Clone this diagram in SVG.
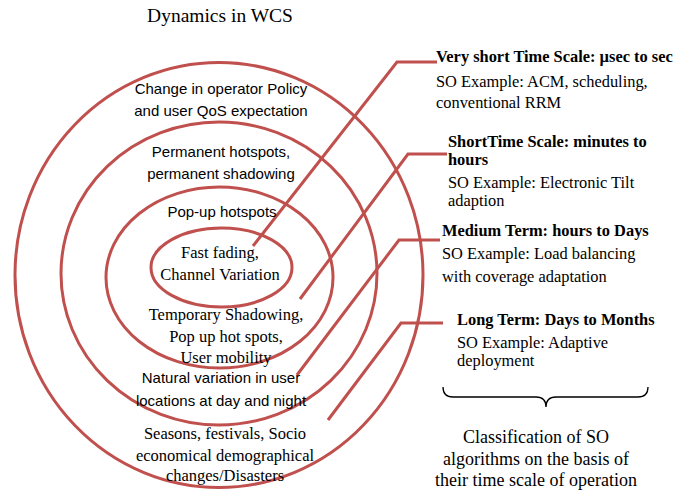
<svg xmlns="http://www.w3.org/2000/svg" width="675" height="494" viewBox="0 0 675 494">
<style>
.ring{fill:none;stroke:#C0504D;stroke-width:3}
.conn{fill:none;stroke:#C0504D;stroke-width:3}
.sans{font-family:"Liberation Sans",Arial,sans-serif;font-size:15px;fill:#000;text-anchor:middle}
.serif{font-family:"Liberation Serif","Times New Roman",serif;font-size:16.5px;fill:#000;text-anchor:middle}
.rt{font-family:"Liberation Serif","Times New Roman",serif;font-size:16.4px;fill:#000}
.b{font-weight:bold}
.cap{font-family:"Liberation Serif","Times New Roman",serif;font-size:18px;fill:#000;text-anchor:middle}
</style>
<rect width="675" height="494" fill="#fff"/>
<text x="220" y="22" font-family="Liberation Serif, Times New Roman, serif" font-size="19.5" text-anchor="middle">Dynamics in WCS</text>
<g id="rings">
<g id="ring-outer"><ellipse class="ring" cx="219" cy="275" rx="204" ry="212.5"/></g>
<g id="ring-2"><ellipse class="ring" cx="219" cy="273.5" rx="158" ry="151.5"/></g>
<g id="ring-3"><ellipse class="ring" cx="219.5" cy="277.5" rx="113.5" ry="90.5"/></g>
<g id="ring-inner"><ellipse class="ring" cx="221.5" cy="267.5" rx="70.5" ry="39.5"/></g>
</g>
<g id="connectors">
<polyline class="conn" points="253,246 397,62 437,62"/>
<polyline class="conn" points="300,299 408,154 447,154"/>
<polyline class="conn" points="297,375 399,240 440,240"/>
<polyline class="conn" points="328,420 401,323 443,323"/>
</g>
<g id="ring-labels">
<g id="label-outer-top"><text class="sans" x="221" y="94">Change in operator Policy</text><text class="sans" x="221" y="116">and user QoS expectation</text></g>
<g id="label-2-top"><text class="sans" x="221" y="157">Permanent hotspots,</text><text class="sans" x="221" y="179">permanent shadowing</text></g>
<g id="label-3-top"><text class="sans" x="222" y="217">Pop-up hotspots</text></g>
<g id="label-inner"><text class="serif" x="220" y="258">Fast fading,</text><text class="serif" x="220" y="280">Channel Variation</text></g>
<g id="label-3-bottom"><text class="serif" x="226" y="320">Temporary Shadowing,</text><text class="serif" x="226" y="342">Pop up hot spots,</text><text class="serif" x="226" y="363">User mobility</text></g>
<g id="label-2-bottom"><text class="sans" x="221" y="383">Natural variation in user</text><text class="sans" x="221" y="406">locations at day and night</text></g>
<g id="label-outer-bottom"><text class="serif" x="225" y="439">Seasons, festivals, Socio</text><text class="serif" x="225" y="461">economical demographical</text><text class="serif" x="225" y="481">changes/Disasters</text></g>
</g>
<g id="scale-very-short">
<text class="rt b" x="436" y="62">Very short Time Scale: µsec to sec</text>
<text class="rt" x="436" y="87">SO Example: ACM, scheduling,</text>
<text class="rt" x="436" y="108">conventional RRM</text>
</g>
<g id="scale-short">
<text class="rt b" x="448" y="147">ShortTime Scale: minutes to</text>
<text class="rt b" x="448" y="165">hours</text>
<text class="rt" x="448" y="188">SO Example: Electronic Tilt</text>
<text class="rt" x="448" y="206">adaption</text>
</g>
<g id="scale-medium">
<text class="rt b" x="442" y="236">Medium Term: hours to Days</text>
<text class="rt" x="442" y="259">SO Example: Load balancing</text>
<text class="rt" x="442" y="282">with coverage adaptation</text>
</g>
<g id="scale-long">
<text class="rt b" x="457" y="325">Long Term: Days to Months</text>
<text class="rt" x="457" y="348">SO Example: Adaptive</text>
<text class="rt" x="457" y="366">deployment</text>
</g>
<g id="brace">
<path d="M443,387 Q443,397 453,397 L536,397 Q546,397 546,407 Q546,397 556,397 L638,397 Q648,397 648,387" fill="none" stroke="#000" stroke-width="1.3"/>
</g>
<g id="caption">
<text class="cap" x="536" y="443">Classification of SO</text>
<text class="cap" x="536" y="465">algorithms on the basis of</text>
<text class="cap" x="536" y="486">their time scale of operation</text>
</g>
</svg>
